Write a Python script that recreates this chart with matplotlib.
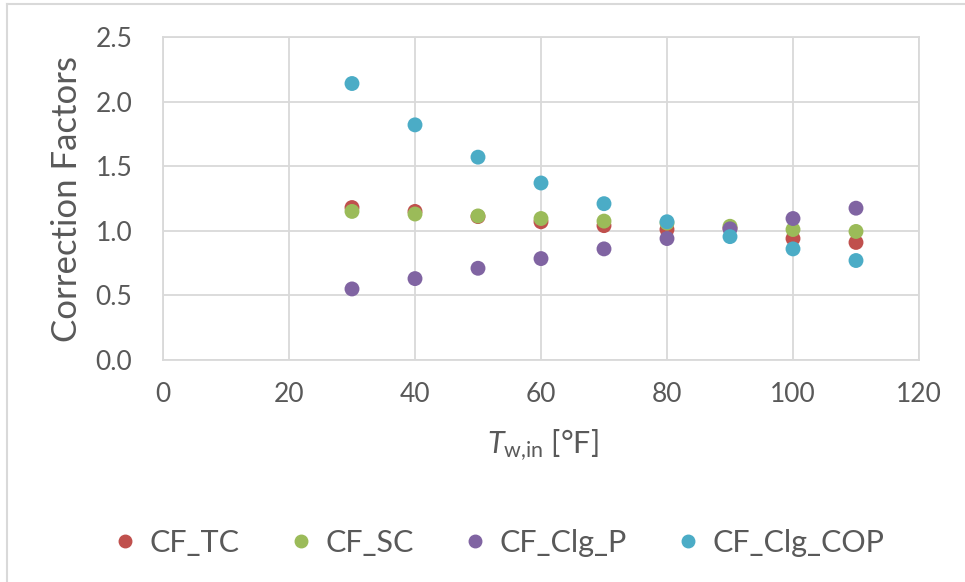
import matplotlib.pyplot as plt
from matplotlib.lines import Line2D

plt.rcParams['font.family'] = ['Lato', 'DejaVu Sans']
plt.rcParams['mathtext.fontset'] = 'custom'
plt.rcParams['mathtext.rm'] = 'Lato'
plt.rcParams['mathtext.it'] = 'Lato:italic'

# data
t_win = [30, 40, 50, 60, 70, 80, 90, 100, 110]
cf_tc = [1.18, 1.15, 1.11, 1.07, 1.04, 1.01, 1.02, 0.94, 0.91]
cf_sc = [1.15, 1.13, 1.115, 1.095, 1.075, 1.06, 1.035, 1.01, 0.995]
cf_clg_p = [0.55, 0.63, 0.71, 0.785, 0.86, 0.94, 1.015, 1.095, 1.175]
cf_clg_cop = [2.14, 1.82, 1.57, 1.37, 1.21, 1.07, 0.955, 0.86, 0.77]

names = ['CF_TC', 'CF_SC', 'CF_Clg_P', 'CF_Clg_COP']
colors = ['#C0504D', '#9BBB59', '#8064A2', '#4BACC6']
txt = '#595959'
grid = '#D9D9D9'

fig = plt.figure(figsize=(9.65, 5.82), dpi=100)
ax = fig.add_axes([163/965, 1-360/582, (919-163)/965, (360-37)/582])

for ys, c in zip([cf_tc, cf_sc, cf_clg_p, cf_clg_cop], colors):
    ax.scatter(t_win, ys, s=115, color=c, edgecolors='none', zorder=3)

ax.set_xlim(0, 120)
ax.set_ylim(0, 2.5)
ax.set_xticks(range(0, 121, 20))
ax.set_yticks([0, 0.5, 1.0, 1.5, 2.0, 2.5])
ax.set_yticklabels(['0.0', '0.5', '1.0', '1.5', '2.0', '2.5'])
ax.grid(True, color=grid, lw=1.3)
ax.set_axisbelow(True)
for sp in ax.spines.values():
    sp.set_color(grid)
    sp.set_linewidth(1.3)
ax.tick_params(length=0, labelsize=19, colors=txt)
ax.tick_params(axis='y', pad=22)
ax.tick_params(axis='x', pad=16)

ax.set_ylabel('Correction Factors', fontsize=25, color=txt, labelpad=9)
ax.set_xlabel(r'$T_{\mathrm{w{,}in}}$ [°F]', fontsize=22, color=txt, labelpad=8)
ax.xaxis.set_label_coords(0.5 + 2/756, -0.21)

handles = [Line2D([], [], marker='o', ls='none', color=c, markersize=9) for c in colors]
fig.legend(handles, names, loc='center', bbox_to_anchor=(0.515, 1-543/582), ncol=4,
           frameon=False, fontsize=22, labelcolor=txt, handletextpad=0.3,
           columnspacing=1.5, handlelength=1.0)

# outer chart border (top and left visible)
fig.add_artist(Line2D([7/965, 1], [1-4/582, 1-4/582], color=grid, lw=1.5))
fig.add_artist(Line2D([7/965, 7/965], [0, 1-4/582], color=grid, lw=1.5))

fig.savefig('out.png', dpi=100)
